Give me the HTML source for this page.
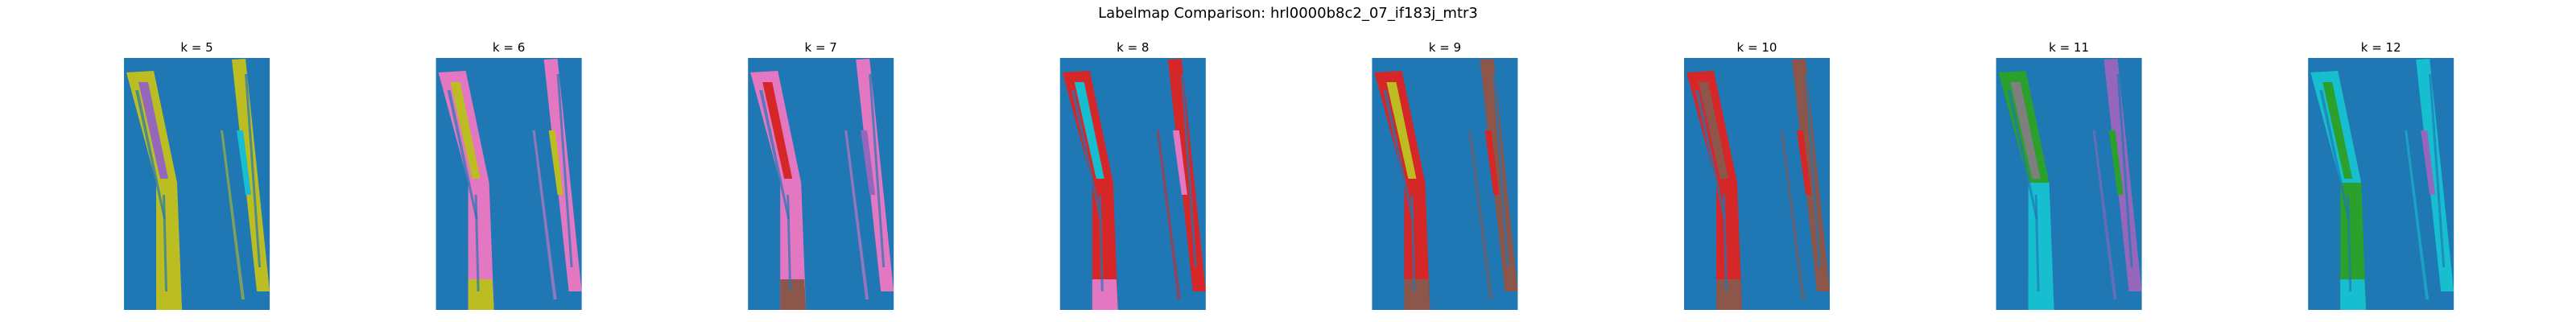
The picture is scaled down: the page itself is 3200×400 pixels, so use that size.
<!DOCTYPE html>
<html><head><meta charset="utf-8"><style>
html,body{margin:0;padding:0;background:#fff;}
svg{display:block;font-family:"DejaVu Sans","Liberation Sans",sans-serif;}
</style></head><body>
<svg id="fig" width="3200" height="400" viewBox="0 0 3200 400" xmlns="http://www.w3.org/2000/svg">
<rect width="3200" height="400" fill="#fff"/>
<text x="1600" y="22" font-size="18" text-anchor="middle" fill="#000">Labelmap Comparison: hrl0000b8c2_07_if183j_mtr3</text>
<g id="panels"></g>
</svg>
<script>
const kValues = [5, 6, 7, 8, 9, 10, 11, 12];
const leftTopColor = ["#bcbd22","#e377c2","#e377c2","#d62728","#d62728","#d62728","#2ca02c","#17becf"];
const leftBottomColor = ["#bcbd22","#e377c2","#e377c2","#d62728","#d62728","#d62728","#17becf","#2ca02c"];
const bottomEndColor = ["#bcbd22","#bcbd22","#8c564b","#e377c2","#8c564b","#8c564b","#17becf","#17becf"];
const accentColor = ["#9467bd","#bcbd22","#d62728","#17becf","#bcbd22","#8c564b","#7f7f7f","#2ca02c"];
const rightColor = ["#bcbd22","#e377c2","#e377c2","#d62728","#8c564b","#8c564b","#9467bd","#17becf"];
const rightAccent = ["#17becf","#bcbd22","#9467bd","#e377c2","#d62728","#d62728","#2ca02c","#9467bd"];

const NS = "http://www.w3.org/2000/svg";
const g = document.getElementById("panels");
const X0 = 154, DX = 387.6, Y0 = 72, W = 181, H = 313;
function el(t, a){const e=document.createElementNS(NS,t);for(const k in a)e.setAttribute(k,a[k]);return e;}
function poly(pts, ox){return pts.map(p=>(ox+p[0])+","+(Y0+p[1])).join(" ");}

kValues.forEach((k,i)=>{
  const ox = X0 + DX*i;
  const pg = el("g",{});
  
  
  const t = el("text",{x:ox+W/2,y:Y0-8,"font-size":"15","text-anchor":"middle",fill:"#000"});
  t.textContent = "k = "+k;
  
  
  pg.appendChild(t);
  const bg = el("rect",{x:ox,y:Y0,width:W,height:H,fill:"#1f77b4"});
  
  
  pg.appendChild(bg);
  const shapes = [
    [[[3,18],[37,16],[66,155],[40,155]], leftTopColor[i], 'left-stripe-top'],
    [[[40,155],[66,155],[72,313],[40,313]], leftBottomColor[i], 'left-stripe-bottom'],
    [[[40,275],[70,275],[72,313],[40,313]], bottomEndColor[i], 'left-stripe-end'],
    [[[18,30],[30,30],[55,150],[45,150]], accentColor[i], 'left-stripe-accent'],
    [[[134,2],[151,1],[181,290],[165,290]], rightColor[i], 'right-stripe'],
    [[[140,90],[148,90],[158,170],[151,170]], rightAccent[i], 'right-stripe-accent'],
    [[[120,90],[123,90],[150,300],[146,300]], rightColor[i], 'right-thin-trace']
  ];
  shapes.forEach(s=>{
    const p = el("polygon",{points:poly(s[0],ox),fill:s[1]});
    
    
    if(s[2]==='right-thin-trace') p.setAttribute('opacity','0.6');
    pg.appendChild(p);
  });
  const holes = [[[14,40],[18,40],[52,200],[49,200]],[[48,170],[51,170],[54,290],[51,290]],[[150,20],[153,20],[170,260],[167,260]]];
  holes.forEach(h=>{
    const p = el("polygon",{points:poly(h,ox),fill:"#1f77b4",opacity:"0.7"});
    
    
    pg.appendChild(p);
  });
  g.appendChild(pg);
});
</script>
</body></html>
